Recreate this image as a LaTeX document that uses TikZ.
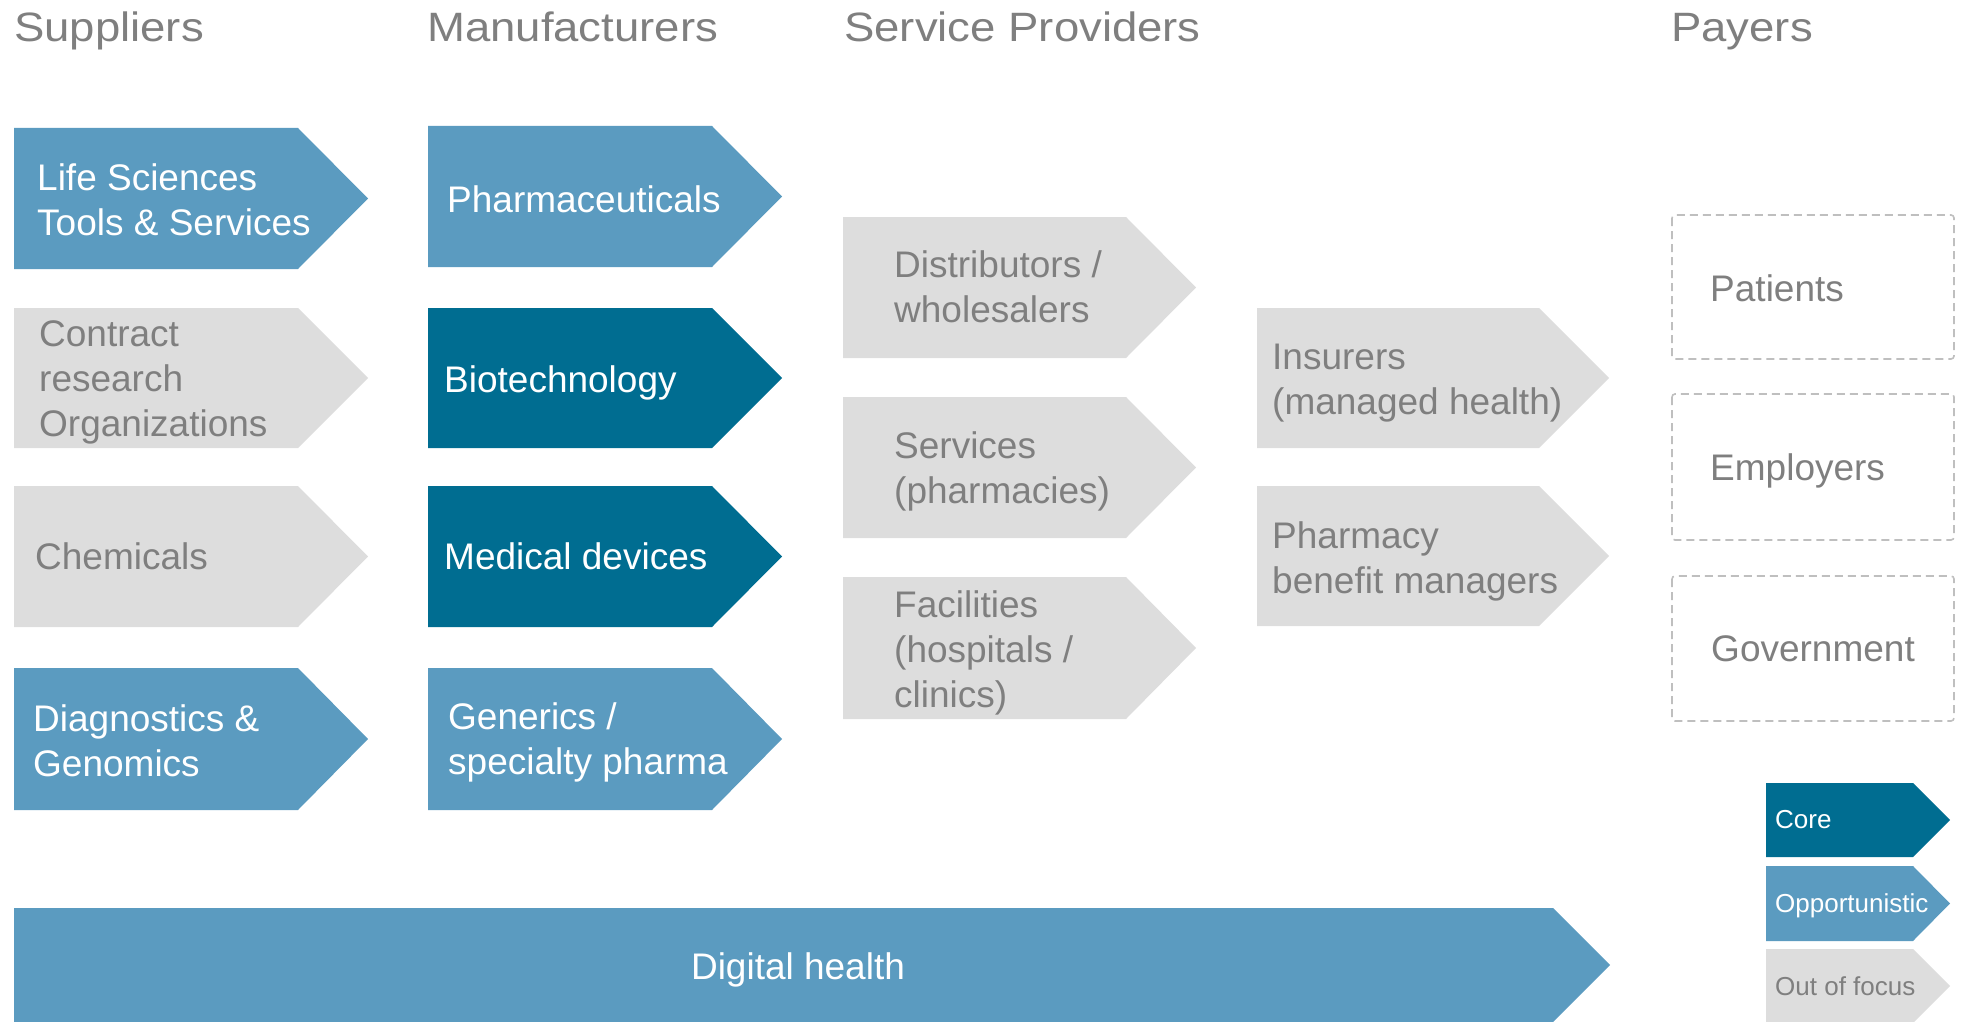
\documentclass[tikz,border=0pt]{standalone}
\usepackage{fontspec}
\setmainfont{Liberation Sans}
\newfontfamily\hdrfont{Liberation Sans}[FakeStretch=1.11]
\definecolor{opp}{RGB}{91,155,192}
\definecolor{core}{RGB}{0,109,145}
\definecolor{oof}{RGB}{221,221,221}
\definecolor{txtgrey}{RGB}{127,127,127}
\definecolor{dashgrey}{RGB}{191,191,191}
\newcommand\chevbox[6]{%
  \fill[#6] (#1,#2) -- ({#3-#5},#2) -- (#3,{(#2+#4)/2}) -- ({#3-#5},#4) -- (#1,#4) -- cycle;}
\begin{document}
\begin{tikzpicture}[x=1pt,y=-1pt,
  hdr/.style={font=\hdrfont\fontsize{41}{48}\selectfont, text=txtgrey, anchor=base west, inner sep=0},
  wtxt/.style={font=\fontsize{37}{45}\selectfont, text=white, anchor=base west, align=left, inner sep=0},
  gtxt/.style={font=\fontsize{37}{45}\selectfont, text=txtgrey, anchor=base west, align=left, inner sep=0},
  lw/.style={font=\fontsize{26}{30}\selectfont, text=white, anchor=base west, inner sep=0},
  lg/.style={font=\fontsize{26}{30}\selectfont, text=txtgrey, anchor=base west, inner sep=0},
  payer/.style={draw=dashgrey, line width=1.6pt, dash pattern=on 8pt off 5pt, rounded corners=3pt}]
\useasboundingbox (0,0) rectangle (1963,1022);
% headers
\node[hdr] (hs) at (14,42) {Suppliers};
\node[hdr] (hm) at (427,42) {Manufacturers};
\node[hdr] (hp) at (844,42) {Service Providers};
\node[hdr] (hy) at (1671,42) {Payers};
% column 1
\chevbox{14}{128}{368}{269}{70}{opp}
\chevbox{14}{308}{368}{448}{70}{oof}
\chevbox{14}{486}{368}{627}{70}{oof}
\chevbox{14}{668}{368}{810}{70}{opp}
\node[wtxt] (c1a) at (37,235) {Life Sciences\\Tools \& Services};
\node[gtxt] (c1b) at (39,436) {Contract\\research\\Organizations};
\node[gtxt] (c1c) at (35,569) {Chemicals};
\node[wtxt] (c1d) at (33,776) {Diagnostics \&\\Genomics};
% column 2
\chevbox{428}{126}{782}{267}{70}{opp}
\chevbox{428}{308}{782}{448}{70}{core}
\chevbox{428}{486}{782}{627}{70}{core}
\chevbox{428}{668}{782}{810}{70}{opp}
\node[wtxt] (c2a) at (447,212) {Pharmaceuticals};
\node[wtxt] (c2b) at (444,392) {Biotechnology};
\node[wtxt] (c2c) at (444,569) {Medical devices};
\node[wtxt] (c2d) at (448,774) {Generics /\\specialty pharma};
% column 3
\chevbox{843}{217}{1196}{358}{70}{oof}
\chevbox{843}{397}{1196}{538}{70}{oof}
\chevbox{843}{577}{1196}{719}{70}{oof}
\node[gtxt] (c3a) at (894,322) {Distributors /\\wholesalers};
\node[gtxt] (c3b) at (894,503) {Services\\(pharmacies)};
\node[gtxt] (c3c) at (894,707) {Facilities\\(hospitals /\\clinics)};
% column 4
\chevbox{1257}{308}{1609}{448}{70}{oof}
\chevbox{1257}{486}{1609}{626}{70}{oof}
\node[gtxt] (c4a) at (1272,414) {Insurers\\(managed health)};
\node[gtxt] (c4b) at (1272,593) {Pharmacy\\benefit managers};
% payers
\draw[payer] (1672,215) rectangle (1954,359);
\draw[payer] (1672,394) rectangle (1954,540);
\draw[payer] (1672,576) rectangle (1954,721);
\node[gtxt] (p1) at (1710,301) {Patients};
\node[gtxt] (p2) at (1710,480) {Employers};
\node[gtxt] (p3) at (1711,661) {Government};
% digital health
\chevbox{14}{908}{1610}{1022}{57}{opp}
\node[font=\fontsize{37}{45}\selectfont, text=white, inner sep=0, anchor=base] (dh) at (798,979) {Digital health};
% legend
\chevbox{1766}{783}{1950}{857}{37}{core}
\chevbox{1766}{866}{1950}{941}{37}{opp}
\chevbox{1766}{949}{1950}{1023}{37}{oof}
\node[lw] (lc) at (1775,828) {Core};
\node[lw] (lo) at (1775,912) {Opportunistic};
\node[lg] (lf) at (1775,995) {Out of focus};
\end{tikzpicture}
\end{document}
